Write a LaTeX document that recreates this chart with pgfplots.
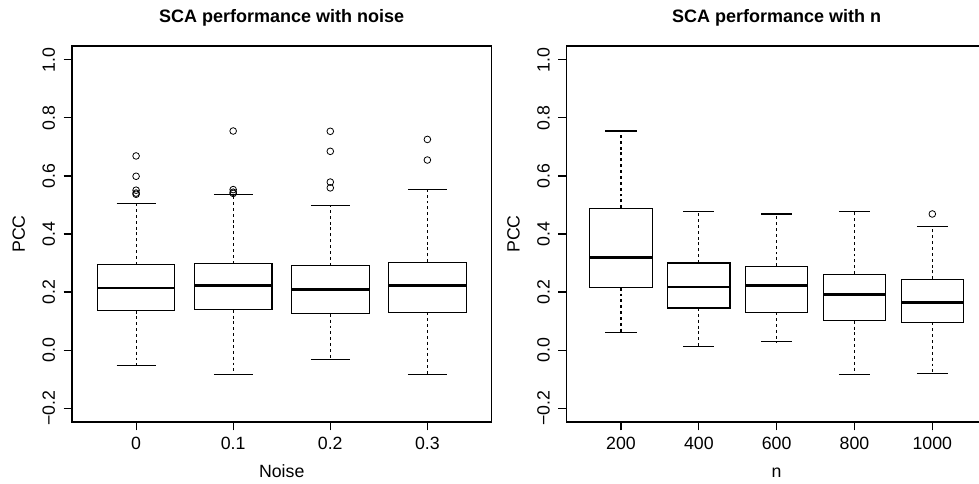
\documentclass[border=0pt]{standalone}
\usepackage{fontspec}
\setmainfont{Liberation Sans}
\usepackage{pgfplots}
\pgfplotsset{compat=1.18}
\usepgfplotslibrary{statistics}

\newcommand{\lblfont}{\fontsize{13.3pt}{16pt}\selectfont}

\pgfplotsset{
  rpanel/.style={
    scale only axis,
    height=282pt,
    ymin=-0.248, ymax=1.048,
    ytick={-0.2,0,0.2,0.4,0.6,0.8,1.0},
    yticklabels={−0.2,0.0,0.2,0.4,0.6,0.8,1.0},
    tick pos=left,
    tick align=outside,
    major tick length=6.3pt,
    minor tick num=0,
    axis line style={black, line width=0.8pt},
    every tick/.style={black, line width=0.8pt},
    tick label style={font=\lblfont},
    xticklabel style={anchor=base},
    xticklabel shift=13.95pt,
    yticklabel style={rotate=90, anchor=base},
    yticklabel shift=6.45pt,
    label style={font=\lblfont},
    xlabel style={at={([yshift=-41.25pt]axis description cs:0.5,0)}, anchor=base},
    ylabel style={at={([xshift=-35.25pt]axis description cs:0,0.5)}, anchor=base, rotate=0},
    title style={at={([yshift=11.5pt]axis description cs:0.5,1)}, anchor=base,
                 font=\fontsize{13.5pt}{16pt}\selectfont\bfseries},
    boxplot/draw direction=y,
    boxplot/box extend=0.8,
    boxplot/whisker extend=0.4,
    boxplot/every box/.style={draw=black, fill=white, line width=0.8pt},
    boxplot/every median/.style={draw=black, line width=2pt},
    % dashed whisker stem, solid cap
    boxplot/draw/lower whisker/.code={
      \draw[black, line width=0.8pt, dash pattern=on 2.2pt off 2.2pt]
        (boxplot box cs:\pgfplotsboxplotvalue{lower quartile},0.5)
        -- (boxplot box cs:\pgfplotsboxplotvalue{lower whisker},0.5);
      \draw[black, line width=0.8pt]
        (boxplot whisker cs:\pgfplotsboxplotvalue{lower whisker},0)
        -- (boxplot whisker cs:\pgfplotsboxplotvalue{lower whisker},1);
    },
    boxplot/draw/upper whisker/.code={
      \draw[black, line width=0.8pt, dash pattern=on 2.2pt off 2.2pt]
        (boxplot box cs:\pgfplotsboxplotvalue{upper quartile},0.5)
        -- (boxplot box cs:\pgfplotsboxplotvalue{upper whisker},0.5);
      \draw[black, line width=0.8pt]
        (boxplot whisker cs:\pgfplotsboxplotvalue{upper whisker},0)
        -- (boxplot whisker cs:\pgfplotsboxplotvalue{upper whisker},1);
    },
  },
  rbox/.style={black, mark=o, mark size=2.5pt, mark options={line width=0.6pt, solid}},
}

\begin{document}
\begin{tikzpicture}
\clip (0,0) rectangle (734.25pt,362.25pt);
\useasboundingbox (0,0) rectangle (734.25pt,362.25pt);

% PCC against the noise level
\begin{axis}[rpanel,
  at={(54pt,45.75pt)}, anchor=south west,
  width=314.6pt,
  xmin=0.34, xmax=4.66,
  xtick={1,2,3,4}, xticklabels={0,0.1,0.2,0.3},
  xlabel={Noise}, ylabel={PCC},
  title={SCA performance with noise}]
\addplot[rbox, boxplot prepared={draw position=1,
  lower whisker=-0.054, lower quartile=0.136, median=0.214,
  upper quartile=0.294, upper whisker=0.506}]
  table[row sep=\\, y index=0] {y\\ 0.669\\ 0.599\\ 0.551\\ 0.541\\ 0.537\\};
\addplot[rbox, boxplot prepared={draw position=2,
  lower whisker=-0.085, lower quartile=0.139, median=0.223,
  upper quartile=0.298, upper whisker=0.536}]
  table[row sep=\\, y index=0] {y\\ 0.755\\ 0.553\\ 0.544\\ 0.540\\};
\addplot[rbox, boxplot prepared={draw position=3,
  lower whisker=-0.031, lower quartile=0.125, median=0.208,
  upper quartile=0.291, upper whisker=0.499}]
  table[row sep=\\, y index=0] {y\\ 0.754\\ 0.685\\ 0.579\\ 0.559\\};
\addplot[rbox, boxplot prepared={draw position=4,
  lower whisker=-0.083, lower quartile=0.130, median=0.223,
  upper quartile=0.303, upper whisker=0.553}]
  table[row sep=\\, y index=0] {y\\ 0.726\\ 0.655\\};
\end{axis}

% PCC against the sample size n
\begin{axis}[rpanel,
  at={(424.9pt,45.75pt)}, anchor=south west,
  width=315.2pt,
  xmin=0.3, xmax=5.7,
  xtick={1,2,3,4,5}, xticklabels={200,400,600,800,1000},
  xlabel={n}, ylabel={PCC},
  title={SCA performance with n}]
\addplot[rbox, boxplot prepared={draw position=1,
  lower whisker=0.059, lower quartile=0.215, median=0.320,
  upper quartile=0.489, upper whisker=0.755}]
  coordinates {};
\addplot[rbox, boxplot prepared={draw position=2,
  lower whisker=0.013, lower quartile=0.145, median=0.217,
  upper quartile=0.300, upper whisker=0.479}]
  coordinates {};
\addplot[rbox, boxplot prepared={draw position=3,
  lower whisker=0.028, lower quartile=0.130, median=0.223,
  upper quartile=0.289, upper whisker=0.469}]
  coordinates {};
\addplot[rbox, boxplot prepared={draw position=4,
  lower whisker=-0.084, lower quartile=0.101, median=0.191,
  upper quartile=0.262, upper whisker=0.477}]
  coordinates {};
\addplot[rbox, boxplot prepared={draw position=5,
  lower whisker=-0.082, lower quartile=0.095, median=0.163,
  upper quartile=0.244, upper whisker=0.425}]
  table[row sep=\\, y index=0] {y\\ 0.469\\};
\end{axis}
\end{tikzpicture}
\end{document}
